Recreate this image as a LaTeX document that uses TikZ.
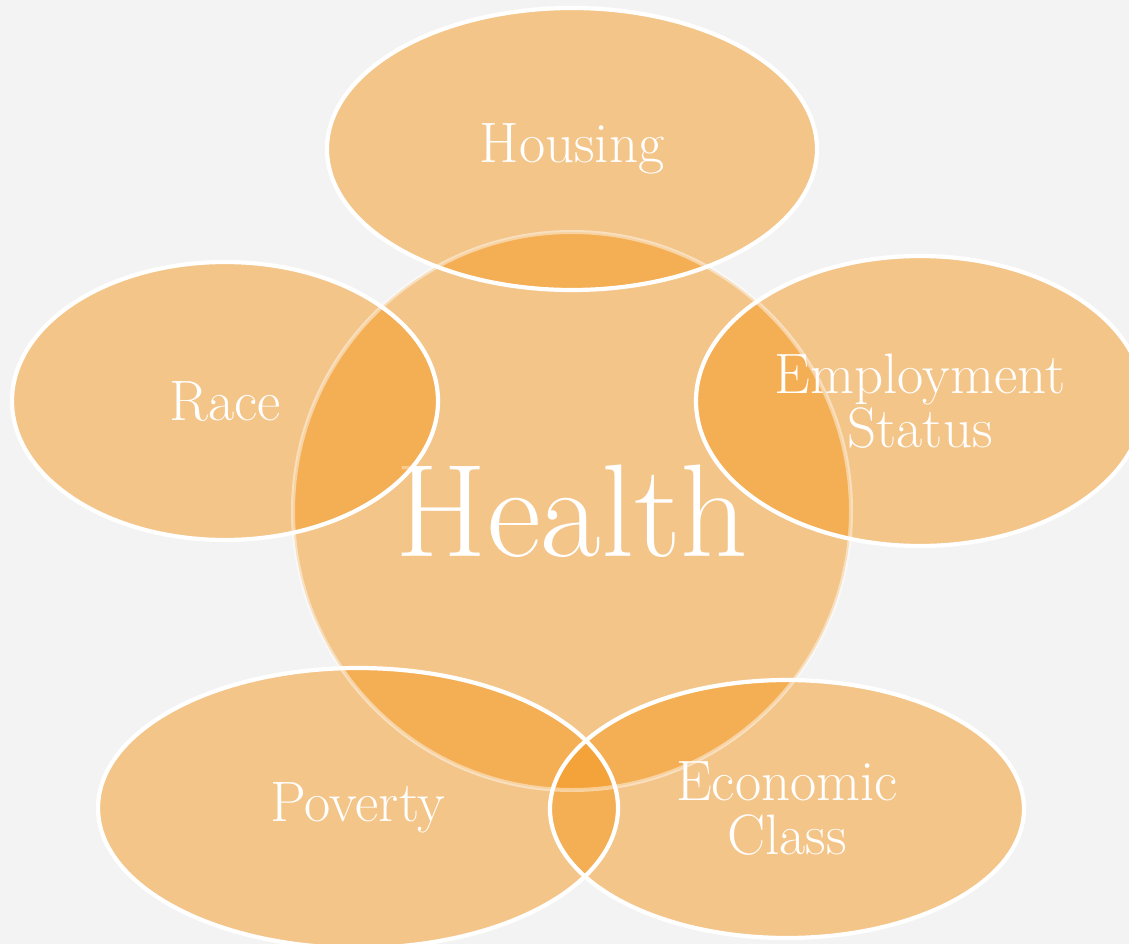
\documentclass[tikz,border=0pt]{standalone}
\usetikzlibrary{shapes.geometric}
\definecolor{bgc}{HTML}{F3F3F3}
\definecolor{orng}{HTML}{F59921}
\begin{document}
\begin{tikzpicture}[x=1pt,y=-1pt,
  blob/.style={ellipse, inner sep=0pt, fill=orng, fill opacity=0.5, text opacity=1,
    text=white, align=center, font=\fontsize{57}{54}\selectfont},
  rim/.style={draw=white, line width=4.2pt}]
\fill[bgc] (0,0) rectangle (1129,944);
\clip (0,0) rectangle (1129,944);
\useasboundingbox (0,0) rectangle (1129,944);
% fills
\node[blob, minimum width=558pt, minimum height=558pt, font=\fontsize{132}{132}\selectfont] (health) at (572,511) {Health};
\node[blob, minimum width=490pt, minimum height=282pt] (housing) at (572,149) {Housing};
\node[blob, minimum width=426pt, minimum height=278pt] (race) at (225,401) {Race};
\node[blob, minimum width=448pt, minimum height=290pt] (employ) at (920,401) {Employment\\Status};
\node[blob, minimum width=520pt, minimum height=280pt] (poverty) at (358,808) {Poverty};
\node[blob, minimum width=474pt, minimum height=258pt] (econ) at (787,809) {Economic\\Class};
% rims
\draw[draw=white, draw opacity=0.45, line width=4pt] (health.center) circle [radius=279pt];
\draw[rim] (housing.center) ellipse [x radius=245pt, y radius=141pt];
\draw[rim] (race.center) ellipse [x radius=213pt, y radius=139pt];
\draw[rim] (employ.center) ellipse [x radius=224pt, y radius=145pt];
\draw[rim] (poverty.center) ellipse [x radius=260pt, y radius=140pt];
\draw[rim] (econ.center) ellipse [x radius=237pt, y radius=129pt];
\end{tikzpicture}
\end{document}
